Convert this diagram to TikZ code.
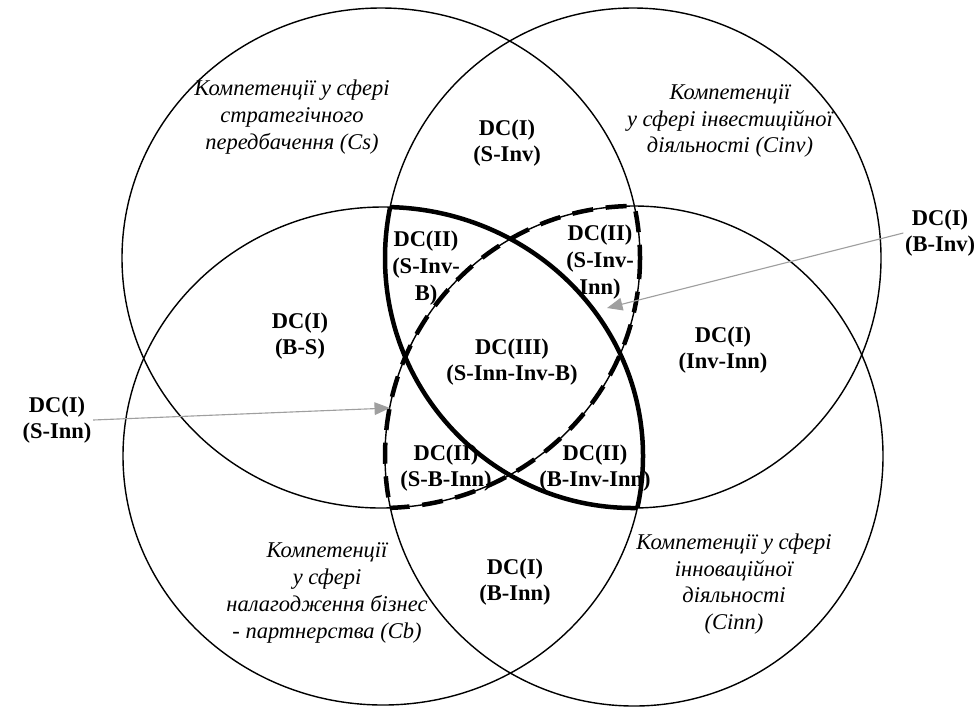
\documentclass[tikz,border=0pt]{standalone}
\usepackage{tikz}
\usepackage{tkz-euclide}
\usetikzlibrary{calc}
\usetikzlibrary{arrows.meta}
\usepackage{fontspec}
\setmainfont{Liberation Serif}
\newfontfamily\vennfont{Liberation Serif}

\tikzset{
  ring/.style={line width=1pt},
  lensline/.style={line width=3.2pt},
  lensdash/.style={line width=3.2pt, dash pattern=on 15pt off 9pt},
  dclabel/.style={font=\vennfont\bfseries\fontsize{16}{19}\selectfont, align=center, inner sep=1pt},
  fieldlabel/.style={font=\vennfont\itshape\fontsize{16}{19}\selectfont, align=center, inner sep=1pt},
  pointer/.style={draw=gray!75, line width=0.8pt, -{Triangle[length=11pt,width=9pt]}},
}

\begin{document}
\begin{tikzpicture}[x=0.025cm,y=-0.025cm]
                    \useasboundingbox (0,0) rectangle (977,706);

                    \tkzDefPoint(381,258){S}
                    \tkzDefPoint(633,258){Inv}
                    \tkzDefPoint(383,456){B}
                    \tkzDefPoint(634,456){Inn}

                    \draw[ring] (S) ellipse [x radius=259, y radius=250];
                    \draw[ring] (Inv) ellipse [x radius=248, y radius=250];
                    \draw[ring] (B) ellipse [x radius=260, y radius=249];
                    \draw[ring] (Inn) ellipse [x radius=249, y radius=250];

                    % B and Inv overlap
                    \begin{scope}
                        \clip (Inv) ellipse [x radius=248, y radius=250];
                        \draw[lensline] (B) ellipse [x radius=260, y radius=249];
                    \end{scope}
                    \begin{scope}
                        \clip (B) ellipse [x radius=260, y radius=249];
                        \draw[lensline] (Inv) ellipse [x radius=248, y radius=250];
                    \end{scope}

                    % S and Inn overlap
                    \begin{scope}
                        \clip (Inn) ellipse [x radius=249, y radius=250];
                        \draw[lensdash] (S) ellipse [x radius=259, y radius=250];
                    \end{scope}
                    \begin{scope}
                        \clip (S) ellipse [x radius=259, y radius=250];
                        \draw[lensdash] (Inn) ellipse [x radius=249, y radius=250];
                    \end{scope}

                    \node[fieldlabel] (cs) at (292,117) {Компетенції у сфері\\стратегічного\\передбачення (Cs)};
                    \node[fieldlabel] (cinv) at (730,121) {Компетенції\\у сфері інвестиційної\\діяльності (Cinv)};
                    \node[fieldlabel] (cb) at (327,593) {Компетенції\\у сфері\\налагодження бізнес\\- партнерства (Cb)};
                    \node[fieldlabel] (cinn) at (734,584) {Компетенції у сфері\\інноваційної\\діяльності\\(Cinn)};

                    \node[dclabel] (sinv) at (507,143) {DC(I)\\(S-Inv)};
                    \node[dclabel] (bs) at (300,336) {DC(I)\\(B-S)};
                    \node[dclabel] (invinn) at (723,350) {DC(I)\\(Inv-Inn)};
                    \node[dclabel] (binn) at (515,582) {DC(I)\\(B-Inn)};
                    \node[dclabel] (sinvb) at (426,268) {DC(II)\\(S-Inv-\\B)};
                    \node[dclabel] (sinvinn) at (600,262) {DC(II)\\(S-Inv-\\Inn)};
                    \node[dclabel] (core) at (512,362) {DC(III)\\(S-Inn-Inv-B)};
                    \node[dclabel] (sbinn) at (446,468) {DC(II)\\(S-B-Inn)};
                    \node[dclabel] (binvinn) at (595,468) {DC(II)\\(B-Inv-Inn)};

                    \node[dclabel] (binv) at (940,233) {DC(I)\\(B-Inv)};
                    \node[dclabel] (sinn) at (57,420) {DC(I)\\(S-Inn)};

                    \tkzDefPoint(390,408){TipSInn}
                    \tkzDefPoint(607,308){TipBInv}

                    \draw[pointer] (sinn.east) -- (TipSInn);
                    \draw[pointer] (binv.west) -- (TipBInv);
                \end{tikzpicture}
\end{document}
